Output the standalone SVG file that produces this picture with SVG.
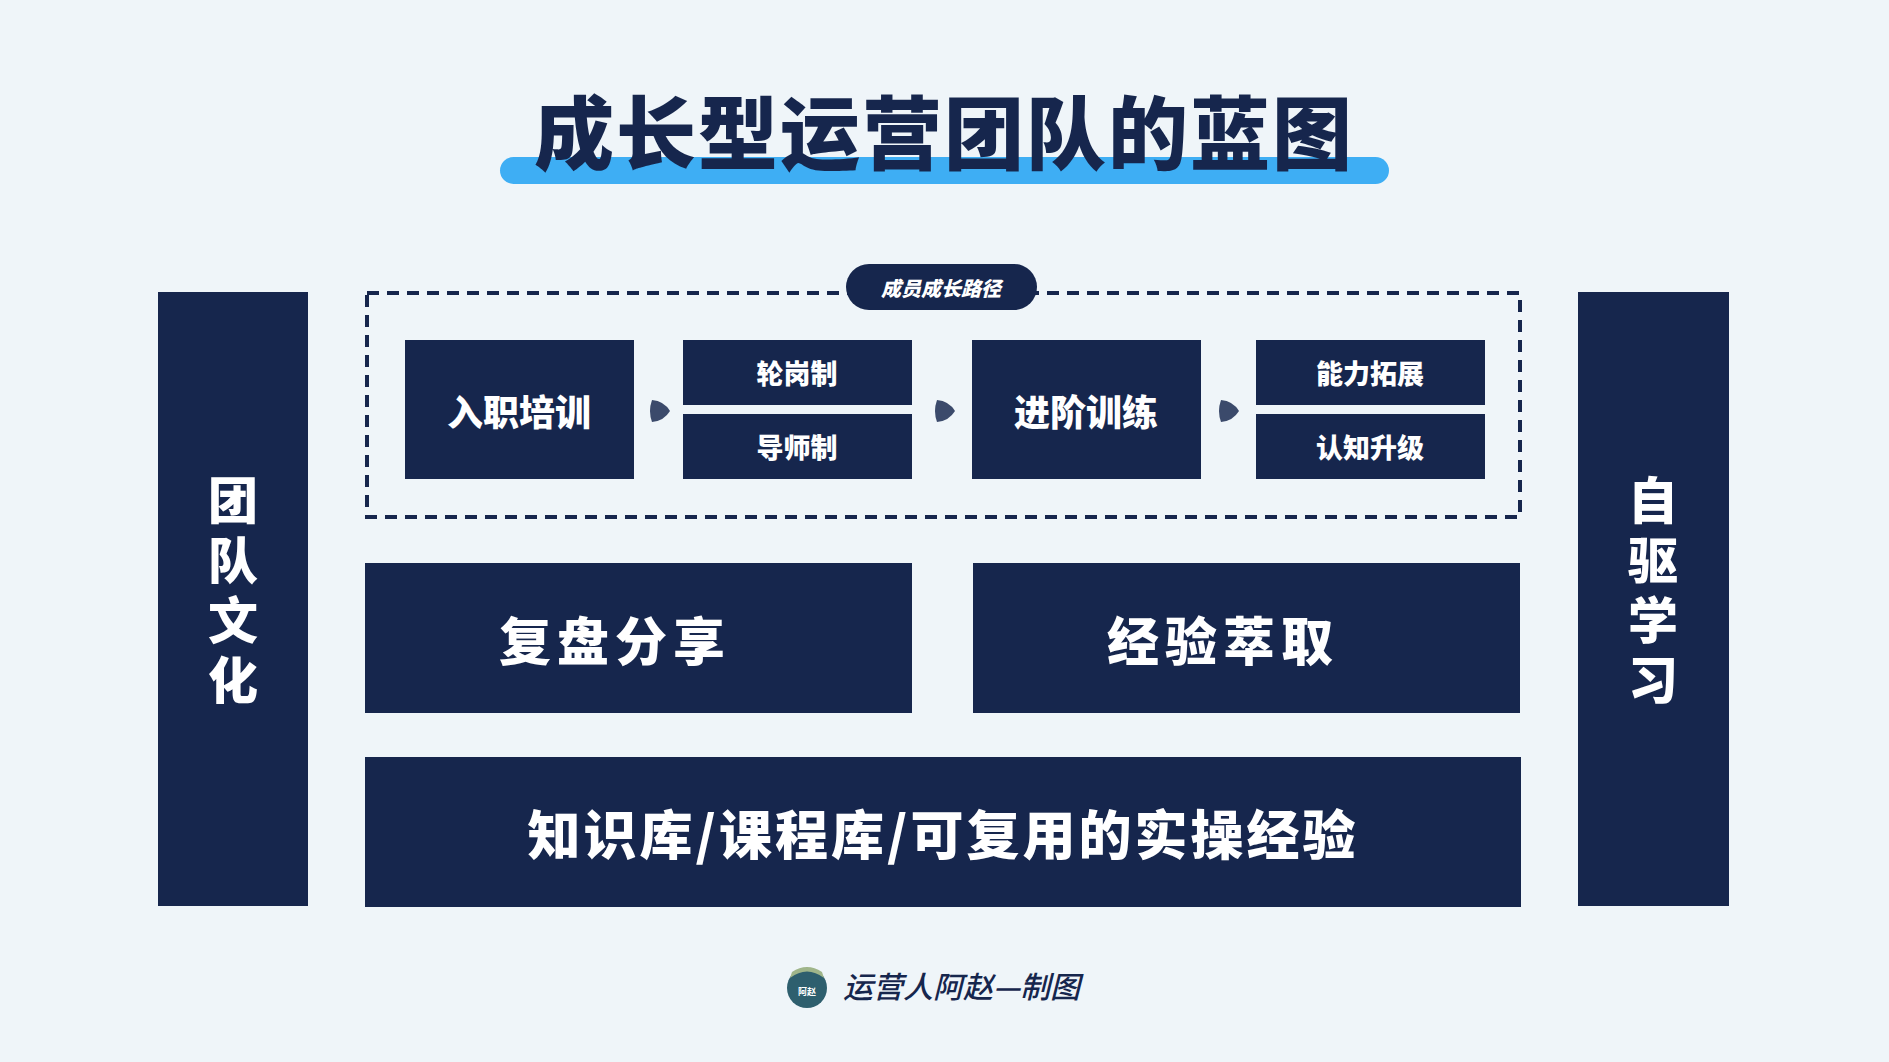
<svg xmlns="http://www.w3.org/2000/svg" width="1889" height="1062" viewBox="0 0 1889 1062">
<style>
.n{fill:#16264d}
.t{fill:#fff;font-family:"Noto Sans CJK SC",sans-serif;font-weight:900;text-anchor:middle;dominant-baseline:central}
</style>
<rect width="1889" height="1062" fill="#eff5f9"/>
<g id="title">
<rect x="500" y="157" width="889" height="27" rx="13.5" fill="#3eaef4"/>
<text x="944" y="128" font-family="Noto Sans CJK SC,sans-serif" font-weight="900" font-size="80" fill="#16264d" text-anchor="middle" dominant-baseline="central" letter-spacing="2">成长型运营团队的蓝图</text>
</g>
<g id="culture"><rect class="n" x="158" y="292" width="150" height="614"/>
<text class="t" font-size="50" x="233" y="595" writing-mode="tb" letter-spacing="10">团队文化</text></g>
<g id="selflearn"><rect class="n" x="1578" y="292" width="151" height="614"/>
<text class="t" font-size="50" x="1653" y="595" writing-mode="tb" letter-spacing="10">自驱学习</text></g>
<g id="path">
<rect x="367" y="293" width="1153" height="224" fill="none" stroke="#16264d" stroke-width="4" stroke-dasharray="12,8"/>
<rect class="n" x="846" y="264" width="191" height="46" rx="23"/>
<text class="t" font-size="20" x="941" y="287" font-style="italic">成员成长路径</text>
</g>
<g id="onboard"><rect class="n" x="405" y="340" width="229" height="139"/><text class="t" font-size="36" x="519" y="410">入职培训</text></g>
<g id="rotate"><rect class="n" x="683" y="340" width="229" height="65"/><text class="t" font-size="27" x="797" y="372">轮岗制</text></g>
<g id="mentor"><rect class="n" x="683" y="414" width="229" height="65"/><text class="t" font-size="27" x="797" y="446">导师制</text></g>
<g id="advanced"><rect class="n" x="972" y="340" width="229" height="139"/><text class="t" font-size="36" x="1086" y="410">进阶训练</text></g>
<g id="ability"><rect class="n" x="1256" y="340" width="229" height="65"/><text class="t" font-size="27" x="1370" y="372">能力拓展</text></g>
<g id="cognition"><rect class="n" x="1256" y="414" width="229" height="65"/><text class="t" font-size="27" x="1370" y="446">认知升级</text></g>
<g id="connectors" fill="#3b4a6b">
<path d="M652 400 Q664 401 670 411 Q664 421 652 422 Q648 411 652 400Z"/>
<path d="M937 400 Q949 401 955 411 Q949 421 937 422 Q933 411 937 400Z"/>
<path d="M1221 400 Q1233 401 1239 411 Q1233 421 1221 422 Q1217 411 1221 400Z"/>
</g>
<g id="review"><rect class="n" x="365" y="563" width="547" height="150"/><text class="t" font-size="52" x="615" y="638" letter-spacing="6">复盘分享</text></g>
<g id="extract"><rect class="n" x="973" y="563" width="547" height="150"/><text class="t" font-size="52" x="1223" y="638" letter-spacing="6">经验萃取</text></g>
<g id="base"><rect class="n" x="365" y="757" width="1156" height="150"/><text class="t" font-size="53" x="943" y="832" letter-spacing="3">知识库/课程库/可复用的实操经验</text></g>
<g id="footer">
<circle cx="807" cy="988" r="20" fill="#2e5f6e"/>
<path d="M790 978 Q807 965 824 978 L822 972 Q807 962 792 972Z" fill="#9fb58a"/>
<text x="807" y="995" font-family="Noto Sans CJK SC,sans-serif" font-size="9" font-weight="700" fill="#fff" text-anchor="middle">阿赵</text>
<text x="843" y="998" font-family="Noto Sans CJK SC,sans-serif" font-size="30" font-style="italic" font-weight="500" fill="#16264d">运营人阿赵—制图</text>
</g>
</svg>
